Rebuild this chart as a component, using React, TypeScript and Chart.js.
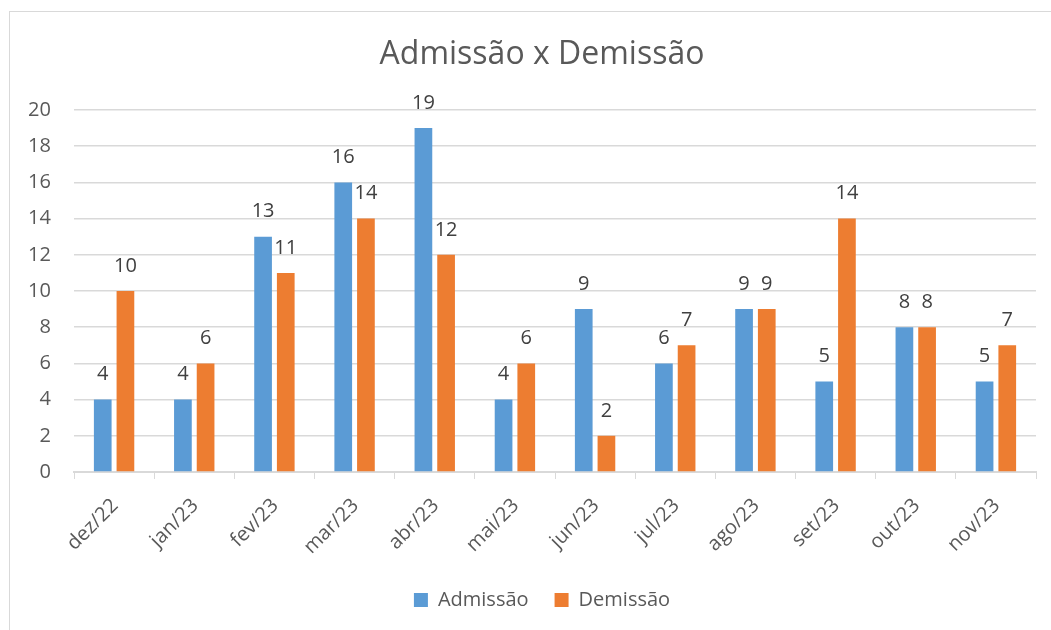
import React, { useEffect, useRef } from "react";
import { Chart, registerables } from "chart.js";

Chart.register(...registerables);

const categories = ["dez/22", "jan/23", "fev/23", "mar/23", "abr/23", "mai/23", "jun/23", "jul/23", "ago/23", "set/23", "out/23", "nov/23"];
const admissao = [4, 4, 13, 16, 19, 4, 9, 6, 9, 5, 8, 5];
const demissao = [10, 6, 11, 14, 12, 6, 2, 7, 9, 14, 8, 7];
const yTicks = [0, 2, 4, 6, 8, 10, 12, 14, 16, 18, 20];

const FONT = "'Open Sans', 'Noto Sans', sans-serif";

const dataLabels = {
  id: "dataLabels",
  afterDatasetsDraw(chart: any) {
    const ctx = chart.ctx;
    ctx.save();
    ctx.font = `20px ${FONT}`;
    ctx.fillStyle = "#404040";
    ctx.textAlign = "center";
    ctx.textBaseline = "middle";
    chart.data.datasets.forEach((ds: any, di: number) => {
      const meta = chart.getDatasetMeta(di);
      meta.data.forEach((bar: any, i: number) => {
        ctx.fillText(String(ds.data[i]), bar.x, bar.y - 25);
      });
    });
    ctx.restore();
  },
};

export default function App() {
  const ref = useRef<HTMLCanvasElement>(null);
  useEffect(() => {
    if (!ref.current) return;
    const chart = new Chart(ref.current, {
      type: "bar",
      data: {
        labels: categories,
        datasets: [
          { label: "Admissão", data: admissao, backgroundColor: "#5B9BD5", categoryPercentage: 0.566, barPercentage: 0.78 },
          { label: "Demissão", data: demissao, backgroundColor: "#ED7D31", categoryPercentage: 0.566, barPercentage: 0.78 },
        ],
      },
      options: {
        animation: false,
        responsive: false,
        layout: { padding: { left: 48, right: 15, top: 0, bottom: 10 } },
        plugins: {
          title: {
            display: true,
            text: "Admissão x Demissão",
            color: "#595959",
            font: { family: FONT, size: 32, weight: "normal", lineHeight: 1.2 },
            padding: { top: 36, bottom: 35.6 },
          },
          legend: {
            position: "bottom",
            labels: {
              boxWidth: 14,
              boxHeight: 14,
              padding: 26,
              color: "#595959",
              font: { family: FONT, size: 20 },
            },
          },
          tooltip: { enabled: false },
        },
        scales: {
          x: {
            grid: { display: true, drawOnChartArea: false, drawTicks: true, tickLength: 7, color: "#D9D9D9", offset: true },
            border: { display: true, color: "#D9D9D9", width: 2 },
            ticks: { color: "#595959", font: { family: FONT, size: 20 }, minRotation: 45, maxRotation: 45, padding: 15, labelOffset: 1, autoSkip: false },
            afterFit(scale: any) { scale.height = 92; },
          },
          y: {
            min: 0,
            max: 20,
            afterBuildTicks(scale: any) { scale.ticks = yTicks.map((v) => ({ value: v })); },
            grid: { color: "#D9D9D9", lineWidth: 1.5, drawTicks: false },
            border: { display: false },
            ticks: { color: "#595959", font: { family: FONT, size: 20 }, mirror: true, crossAlign: "far", padding: -46 },
            afterFit(scale: any) { scale.width = 26; },
          },
        },
      },
      plugins: [dataLabels],
    } as any);
    return () => chart.destroy();
  }, []);
  return (
    <div style={{ position: "fixed", left: 0, top: 0, width: 1051, height: 630, overflow: "hidden", background: "#fff" }}>
      <div style={{ position: "absolute", left: 9, top: 11, width: 1100, height: 700, border: "1px solid #D9D9D9", boxSizing: "border-box" }} />
      <canvas ref={ref} width={1051} height={630} style={{ position: "absolute", left: 0, top: 0, width: 1051, height: 630 }} />
    </div>
  );
}
